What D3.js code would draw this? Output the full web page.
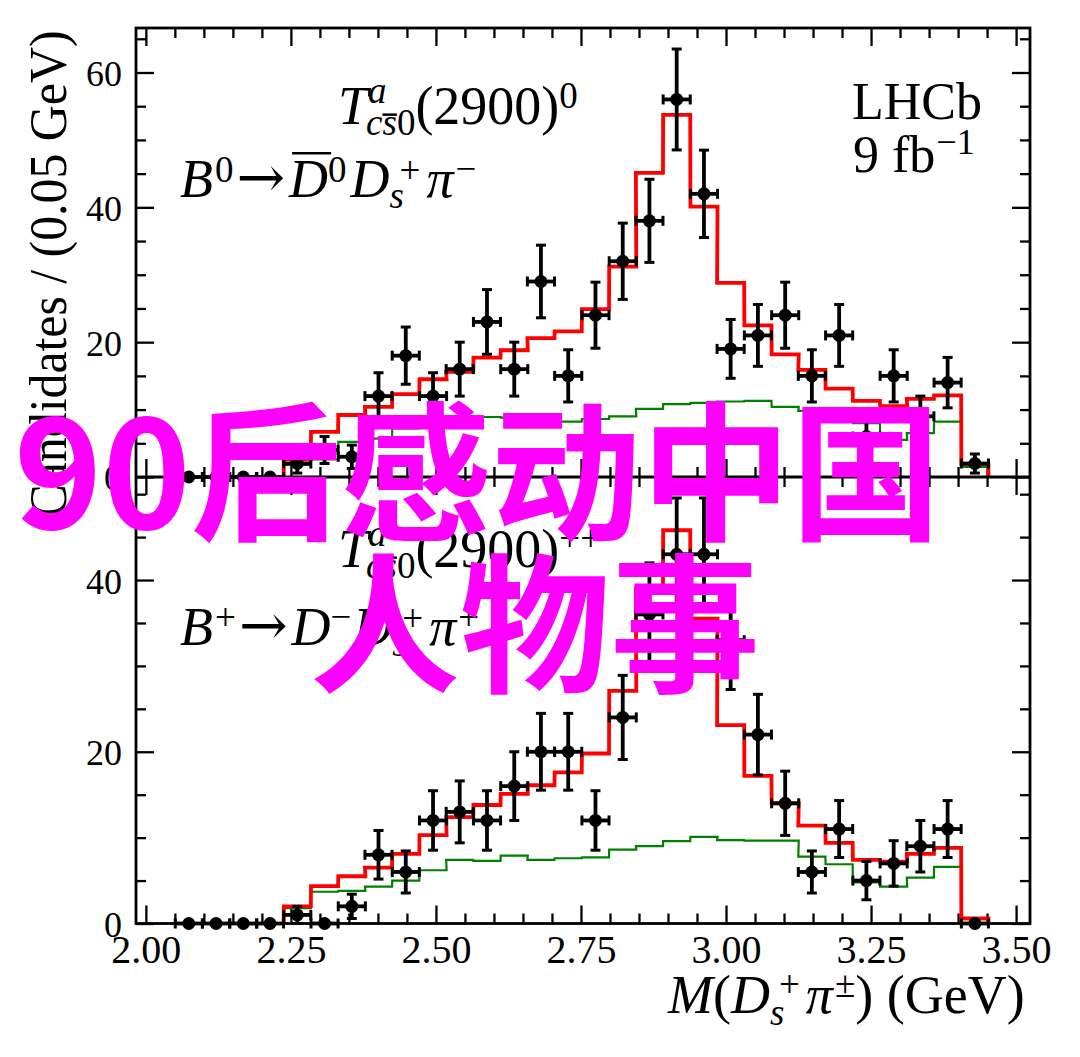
<!DOCTYPE html>
<html>
<head>
<meta charset="utf-8">
<script src="https://cdn.jsdelivr.net/npm/d3@7"></script>
<style>
  body { margin: 0; background: #fff; }
  svg { display: block; }
</style>
</head>
<body>
<div id="chart"></div>
<script>
// bin centres of M(Ds pi) in GeV, one per data point
const binCenters = [2.074, 2.121, 2.168, 2.214, 2.261, 2.308, 2.355, 2.401, 2.448, 2.495,
  2.541, 2.588, 2.635, 2.681, 2.728, 2.775, 2.822, 2.868, 2.915, 2.962,
  3.008, 3.055, 3.102, 3.148, 3.195, 3.242, 3.289, 3.335, 3.382, 3.429];
const binWidth = 0.0467;
const histFirstBin = 4; // fit histograms start at this bin

// B0 -> D0bar Ds+ pi-
const topData = [0, 0, 0, 0, 2, 4, 3, 12, 18, 12, 16, 23, 16, 29, 15, 24, 32, 38, 56, 42,
  19, 21, 24, 15, 21, 6, 15, 9, 14, 2];
const topFit = [2.6, 6.7, 9.2, 10.4, 12.3, 14.5, 15.6, 17.7, 18.8, 20.6, 21.6, 24.9, 31.2,
  45.1, 53.7, 40.1, 28.8, 22.5, 18.2, 15.9, 13.1, 11.3, 10.5, 11.6, 12.1, 1.9];
const topBkg = [1.8, 2.6, 5.2, 5.7, 7.2, 7.8, 8.9, 8.9, 8.8, 8.4, 8.2, 8.6, 9.0, 10.1,
  10.8, 11.0, 11.2, 11.3, 10.4, 9.8, 8.2, 8.0, 5.5, 6.5, 8.2, 1.5];

// B+ -> D- Ds+ pi+
const botData = [0, 0, 0, 0, 1, 0, 2, 8, 6, 12, 13, 12, 16, 20, 20, 12, 24, 36, 43, 43,
  33, 22, 14, 6, 11, 5, 7, 9, 11, 0];
const botFit = [2.0, 4.35, 5.5, 6.5, 8.1, 10.3, 12.4, 13.8, 15.1, 16.1, 17.6, 19.8, 27.1,
  39.0, 45.8, 35.5, 23.1, 17.2, 14.0, 11.4, 9.4, 7.4, 7.2, 8.1, 8.8, 0.6];
const botBkg = [1.8, 3.7, 3.8, 4.3, 5.0, 6.2, 7.4, 7.3, 7.9, 7.4, 7.6, 7.7, 8.6, 9.0,
  9.6, 10.1, 9.7, 9.65, 9.65, 7.8, 6.9, 4.8, 4.3, 5.35, 6.6, 0.5];

const xMajor = [2.00, 2.25, 2.50, 2.75, 3.00, 3.25, 3.50];
const topYMajor = [0, 20, 40, 60];
const botYMajor = [0, 20, 40];

const W = 1080, H = 1057;
const L = 136, R = 1030, T = 28, MID = 477, B = 923.5;
const serif = "'Liberation Serif', 'Times New Roman', serif";

const svg = d3.select("#chart").append("svg").attr("width", W).attr("height", H);

const x = d3.scaleLinear().domain([1.983, 3.524]).range([L, R]);
const yTop = d3.scaleLinear().domain([0, 66.6]).range([MID, T]);
const yBot = d3.scaleLinear().domain([0, 52.0]).range([B, MID]);

const xMinor = d3.range(2.0, 3.5001, 0.05).filter(v => !xMajor.some(m => Math.abs(m - v) < 1e-6));

// draws ticks (inward) on all 4 sides of one panel
function drawFrameTicks(y, y0, y1, yMajor, yMax, showXLabels) {
  const yMinor = d3.range(0, yMax + 0.001, 5).filter(v => v % 20 !== 0);
  const style = g => { g.select(".domain").remove(); g.selectAll("line").attr("stroke-width", 2.3); };

  // bottom
  const gb = svg.append("g").attr("transform", `translate(0,${y0})`)
    .call(d3.axisBottom(x).tickValues(xMajor).tickSize(-18).tickPadding(11).tickFormat(d3.format(".2f")))
    .call(style);
  if (showXLabels) gb.attr("font-family", serif).attr("font-size", 40).selectAll("text").attr("fill", "#000");
  else gb.selectAll("text").remove();
  svg.append("g").attr("transform", `translate(0,${y0})`)
    .call(d3.axisBottom(x).tickValues(xMinor).tickSize(-10).tickFormat(""))
    .call(style);
  // top
  svg.append("g").attr("transform", `translate(0,${y1})`)
    .call(d3.axisTop(x).tickValues(xMajor).tickSize(-18).tickFormat(""))
    .call(style);
  svg.append("g").attr("transform", `translate(0,${y1})`)
    .call(d3.axisTop(x).tickValues(xMinor).tickSize(-10).tickFormat(""))
    .call(style);
  // left
  const gl = svg.append("g").attr("transform", `translate(${L},0)`)
    .call(d3.axisLeft(y).tickValues(yMajor).tickSize(-18).tickPadding(14).tickFormat(d3.format("d")))
    .call(style);
  gl.attr("font-family", serif).attr("font-size", 36).selectAll("text").attr("fill", "#000").attr("dy", "0.36em");
  svg.append("g").attr("transform", `translate(${L},0)`)
    .call(d3.axisLeft(y).tickValues(yMinor).tickSize(-10).tickFormat(""))
    .call(style);
  // right
  svg.append("g").attr("transform", `translate(${R},0)`)
    .call(d3.axisRight(y).tickValues(yMajor).tickSize(-18).tickFormat(""))
    .call(style);
  svg.append("g").attr("transform", `translate(${R},0)`)
    .call(d3.axisRight(y).tickValues(yMinor).tickSize(-10).tickFormat(""))
    .call(style);
}

// step histogram outline
function drawHist(y, vals, color, width) {
  const pts = [];
  vals.forEach((v, i) => {
    const c = binCenters[histFirstBin + i];
    if (i === 0) pts.push([c - binWidth / 2, 0]);
    pts.push([c - binWidth / 2, v]);
    pts.push([c + binWidth / 2, v]);
  });
  pts.push([pts[pts.length - 1][0], 0]);
  svg.append("path")
    .attr("d", d3.line().x(d => x(d[0])).y(d => y(d[1]))(pts))
    .attr("fill", "none").attr("stroke", color).attr("stroke-width", width)
    .attr("stroke-linejoin", "miter");
}

// data points with sqrt(N) errors
function drawData(y, vals) {
  const g = svg.append("g").attr("stroke", "#000").attr("stroke-width", 3.8);
  const cap = 5;
  vals.forEach((v, i) => {
    const c = binCenters[i];
    const x0 = x(c - binWidth / 2), x1 = x(c + binWidth / 2), cx = x(c), cy = y(v);
    g.append("line").attr("x1", x0).attr("x2", x1).attr("y1", cy).attr("y2", cy);
    g.append("line").attr("x1", x0).attr("x2", x0).attr("y1", cy - cap).attr("y2", cy + cap).attr("stroke-width", 3);
    g.append("line").attr("x1", x1).attr("x2", x1).attr("y1", cy - cap).attr("y2", cy + cap).attr("stroke-width", 3);
    if (v > 0) {
      const e = Math.sqrt(v);
      const ya = y(v + e), yb = y(v - e);
      g.append("line").attr("x1", cx).attr("x2", cx).attr("y1", ya).attr("y2", yb);
      g.append("line").attr("x1", cx - cap).attr("x2", cx + cap).attr("y1", ya).attr("y2", ya).attr("stroke-width", 3);
      g.append("line").attr("x1", cx - cap).attr("x2", cx + cap).attr("y1", yb).attr("y2", yb).attr("stroke-width", 3);
    }
    g.append("circle").attr("cx", cx).attr("cy", cy).attr("r", 6.5).attr("fill", "#000").attr("stroke", "none");
  });
}

// sequential math-like text: italic, sub/superscripts, overlines
function mathText(x0, y0, parts, big, small) {
  const g = svg.append("g").attr("font-family", serif).attr("fill", "#000");
  let cx = x0, mark = x0, maxEnd = x0;
  parts.forEach(p => {
    if (p.mark) mark = cx;
    if (p.back) { maxEnd = cx; cx = mark; }
    cx += p.dx || 0;
    const size = p.size || (p.sm ? small : big);
    const t = g.append("text").attr("x", cx).attr("y", y0 + (p.dy || 0))
      .attr("font-size", size).attr("font-style", p.it ? "italic" : "normal").text(p.t);
    if (p.font) t.attr("font-family", p.font);
    const len = t.node().getComputedTextLength();
    if (p.ov) {
      const oy = y0 + (p.dy || 0) - p.ov * size;
      g.append("line").attr("x1", cx + (p.ox || 0)).attr("x2", cx + len + (p.ox || 0))
        .attr("y1", oy).attr("y2", oy).attr("stroke", "#000").attr("stroke-width", 2.5);
    }
    cx += len + (p.after || 0);
    if (p.join) cx = Math.max(cx, maxEnd);
  });
}

drawFrameTicks(yTop, MID, T, topYMajor, 65, false);
drawFrameTicks(yBot, B, MID, botYMajor, 50, true);

drawHist(yTop, topBkg, "#008000", 2.2);
drawHist(yTop, topFit, "#ff0000", 3.8);
drawHist(yBot, botBkg, "#008000", 2.2);
drawHist(yBot, botFit, "#ff0000", 3.8);
drawData(yTop, topData);
drawData(yBot, botData);

// frame
svg.append("rect").attr("x", L).attr("y", T).attr("width", R - L).attr("height", B - T)
  .attr("fill", "none").attr("stroke", "#000").attr("stroke-width", 2.8);
svg.append("line").attr("x1", L).attr("x2", R).attr("y1", MID).attr("y2", MID)
  .attr("stroke", "#000").attr("stroke-width", 2.8);

const arrow = { t: "\u2192", font: "'DejaVu Serif', serif", size: 58, dy: 0, dx: 3, after: 4 };

// annotations
mathText(338, 124, [
  { t: "T", it: true },
  { t: "a", it: true, sm: true, dy: -21, mark: true },
  { t: "c", it: true, sm: true, dy: 11, back: true, dx: -2 },
  { t: "s", it: true, sm: true, dy: 11, ov: 0.55 },
  { t: "0", sm: true, dy: 11, join: true },
  { t: "(2900)" },
  { t: "0", sm: true, dy: -16 }
], 54, 37);
mathText(180, 197, [
  { t: "B", it: true },
  { t: "0", sm: true, dy: -15, dx: 2 },
  arrow,
  { t: "D", it: true, ov: 0.81, ox: 3 },
  { t: "0", sm: true, dy: -15 },
  { t: "D", it: true, dx: 4 },
  { t: "s", it: true, sm: true, dy: 11, mark: true },
  { t: "+", sm: true, dy: -14, back: true, dx: 10, join: true },
  { t: "\u03c0", it: true, dx: 6 },
  { t: "\u2212", sm: true, dy: -16, dx: 2 }
], 54, 37);

mathText(852, 119, [{ t: "LHCb" }], 52, 36);
mathText(853, 172, [
  { t: "9 fb" },
  { t: "\u22121", sm: true, dy: -18, dx: 1 }
], 52, 36);

mathText(338, 567, [
  { t: "T", it: true },
  { t: "a", it: true, sm: true, dy: -21, mark: true },
  { t: "c", it: true, sm: true, dy: 11, back: true, dx: -2 },
  { t: "s", it: true, sm: true, dy: 11, ov: 0.55 },
  { t: "0", sm: true, dy: 11, join: true },
  { t: "(2900)" },
  { t: "++", sm: true, dy: -16 }
], 54, 37);
mathText(180, 645, [
  { t: "B", it: true },
  { t: "+", sm: true, dy: -15, dx: 2 },
  arrow,
  { t: "D", it: true },
  { t: "\u2212", sm: true, dy: -16 },
  { t: "D", it: true, dx: 2 },
  { t: "s", it: true, sm: true, dy: 11, mark: true },
  { t: "+", sm: true, dy: -14, back: true, dx: 10, join: true },
  { t: "\u03c0", it: true, dx: 6 },
  { t: "+", sm: true, dy: -15, dx: 2 }
], 54, 37);

// axis titles
mathText(668, 1013, [
  { t: "M", it: true },
  { t: "(" },
  { t: "D", it: true },
  { t: "s", it: true, sm: true, dy: 12, mark: true },
  { t: "+", sm: true, dy: -16, back: true, dx: 9, join: true },
  { t: "\u03c0", it: true, dx: 6 },
  { t: "\u00b1", sm: true, dy: -16, dx: 2 },
  { t: ") (GeV)" }
], 54, 37);

svg.append("text")
  .attr("transform", "translate(66,274) rotate(-90)")
  .attr("text-anchor", "middle")
  .attr("font-family", serif).attr("font-size", 52)
  .attr("textLength", 487).attr("lengthAdjust", "spacingAndGlyphs")
  .text("Candidates / (0.05 GeV)");

// overlay title
const overlay = svg.append("g").attr("font-family", "'Noto Sans CJK SC', sans-serif")
  .attr("font-weight", 700).attr("font-size", 150).attr("fill", "#ff00ff");
overlay.append("text").attr("x", 14).attr("y", 529).text("90后感动中国");
overlay.append("text").attr("x", 310).attr("y", 681).text("人物事");
</script>
</body>
</html>
